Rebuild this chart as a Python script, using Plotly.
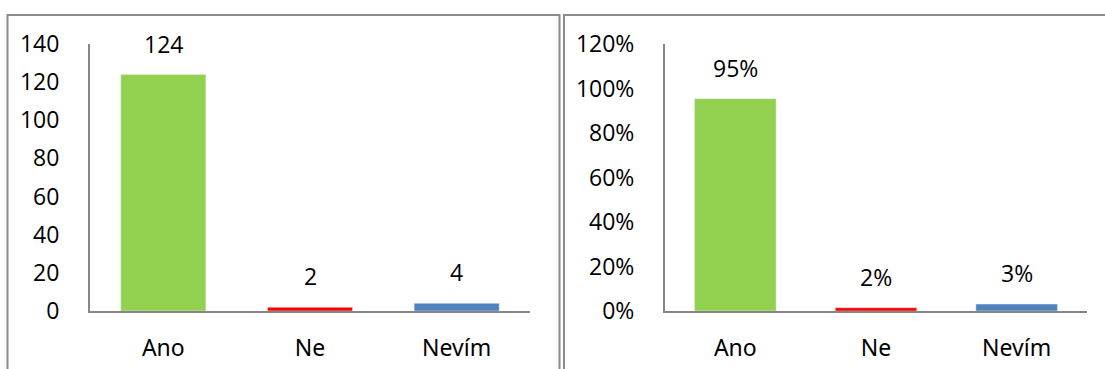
import plotly.graph_objects as go

categories = ["Ano", "Ne", "Nevím"]
counts = [124, 2, 4]
count_labels = ["124", "2", "4"]
shares = [0.954, 0.015, 0.031]
share_labels = ["95%", "2%", "3%"]
bar_colors = ["#92D050", "#FF0000", "#4F81BD"]
count_ticks = [0, 20, 40, 60, 80, 100, 120, 140]
share_ticks = [0, 0.2, 0.4, 0.6, 0.8, 1.0, 1.2]
share_tick_text = ["0%", "20%", "40%", "60%", "80%", "100%", "120%"]

W, H = 1105, 369
NUM_FONT = "Open Sans"
CAT_FONT = "Noto Sans"
AXIS_COLOR = "#868686"
BORDER_COLOR = "#8C8C8C"

fig = go.Figure()
fig.add_trace(go.Bar(x=categories, y=counts, marker_color=bar_colors,
                     xaxis="x", yaxis="y", showlegend=False, hoverinfo="skip"))
fig.add_trace(go.Bar(x=categories, y=shares, marker_color=bar_colors,
                     xaxis="x2", yaxis="y2", showlegend=False, hoverinfo="skip"))

annotations = []
for c, v, t in zip(categories, counts, count_labels):
    annotations.append(dict(x=c, y=v, text=t, xref="x", yref="y", showarrow=False,
                            yanchor="bottom", yshift=13,
                            font=dict(family=NUM_FONT, size=23, color="#000")))
for c, v, t in zip(categories, shares, share_labels):
    annotations.append(dict(x=c, y=v, text=t, xref="x2", yref="y2", showarrow=False,
                            yanchor="bottom", yshift=13,
                            font=dict(family=NUM_FONT, size=23, color="#000")))

y0 = (H - 311) / H
y1 = (H - 44) / H

common_x = dict(showgrid=False, showline=True, linecolor=AXIS_COLOR, linewidth=2,
                ticks="", tickfont=dict(family=CAT_FONT, size=23, color="#000"),
                ticklabelstandoff=15, fixedrange=True, automargin=False)
fig.update_layout(
    width=W, height=H,
    margin=dict(l=0, r=0, t=0, b=0, autoexpand=False),
    paper_bgcolor="white", plot_bgcolor="white",
    bargap=0.42,
    xaxis=dict(domain=[90 / W, 530 / W], anchor="y", **common_x),
    xaxis2=dict(domain=[665 / W, 1087 / W], anchor="y2", **common_x),
    yaxis=dict(domain=[y0, y1], range=[0, 140], anchor="x", tickvals=count_ticks,
               showgrid=False, zeroline=False, showline=True, linecolor=AXIS_COLOR,
               linewidth=2, ticks="", ticklabelstandoff=24, automargin=False,
               tickfont=dict(family=NUM_FONT, size=23, color="#000")),
    yaxis2=dict(domain=[y0, y1], range=[0, 1.2], anchor="x2", tickvals=share_ticks,
                ticktext=share_tick_text, showgrid=False, zeroline=False, showline=True,
                linecolor=AXIS_COLOR, linewidth=2, ticks="", ticklabelstandoff=24,
                automargin=False,
                tickfont=dict(family=NUM_FONT, size=23, color="#000")),
    annotations=annotations,
    shapes=[
        dict(type="rect", xref="paper", yref="paper", x0=7.5 / W, x1=559.5 / W,
             y0=-0.2, y1=(H - 15) / H, line=dict(color=BORDER_COLOR, width=2)),
        dict(type="rect", xref="paper", yref="paper", x0=564 / W, x1=1.2,
             y0=-0.2, y1=(H - 15) / H, line=dict(color=BORDER_COLOR, width=2)),
    ],
)

fig.write_html("out.html")
